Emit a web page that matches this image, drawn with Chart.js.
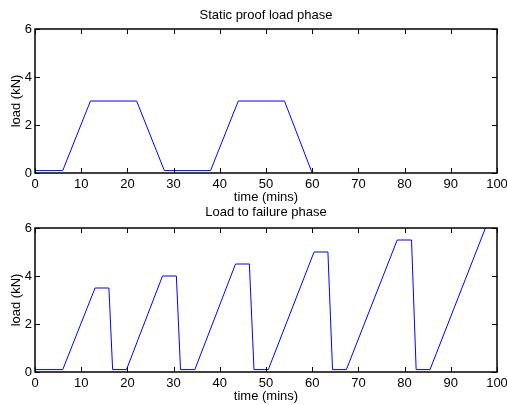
<!DOCTYPE html>
<html>
<head>
<meta charset="utf-8">
<script src="https://cdn.jsdelivr.net/npm/chart.js@4/dist/chart.umd.min.js"></script>
<style>
  html, body { margin: 0; padding: 0; background: #fff; }
  #wrap { position: relative; width: 507px; height: 405px; overflow: hidden; }
  canvas { position: absolute; left: 0; }
  #proofChart { top: 0; }
  #failChart { top: 200px; }
</style>
</head>
<body>
<div id="wrap">
  <canvas id="proofChart" width="507" height="206"></canvas>
  <canvas id="failChart" width="507" height="205"></canvas>
</div>
<script>
// Static proof load phase
const proofTime = [0, 6, 12, 22, 28, 38, 44, 54, 60];
const proofLoad = [0.1, 0.1, 3, 3, 0.1, 0.1, 3, 3, 0];

// Load to failure phase
const failTime = [0, 6, 13, 16, 16.8, 19.8, 27.6, 30.6, 31.5, 34.6, 43.4, 46.4, 47.4, 50.5,
                  60.4, 63.4, 64.4, 67.4, 78.4, 81.5, 82.5, 85.5, 97.5];
const failLoad = [0.1, 0.1, 3.5, 3.5, 0.1, 0.1, 4, 4, 0.1, 0.1, 4.5, 4.5, 0.1, 0.1,
                  5, 5, 0.1, 0.1, 5.5, 5.5, 0.1, 0.1, 6];

const xTicks = [0, 10, 20, 30, 40, 50, 60, 70, 80, 90, 100];
const yTicks = [0, 2, 4, 6];

const FONT = { family: '"Liberation Sans", Arial, sans-serif', size: 13 };

// Matlab-style box with inward ticks on all four sides
const boxTicks = {
    id: 'boxTicks',
    afterDraw(chart) {
        const { ctx, chartArea: a, scales } = chart;
        const len = 5;
        ctx.save();
        ctx.strokeStyle = '#000';
        ctx.lineWidth = 1;
        ctx.beginPath();
        scales.x.ticks.forEach(t => {
            const px = Math.round(scales.x.getPixelForValue(t.value)) + 0.5;
            ctx.moveTo(px, a.bottom);
            ctx.lineTo(px, a.bottom - len);
            ctx.moveTo(px, a.top);
            ctx.lineTo(px, a.top + len);
        });
        scales.y.ticks.forEach(t => {
            const py = Math.round(scales.y.getPixelForValue(t.value)) + 0.5;
            ctx.moveTo(a.left, py);
            ctx.lineTo(a.left + len, py);
            ctx.moveTo(a.right, py);
            ctx.lineTo(a.right - len, py);
        });
        ctx.stroke();
        ctx.lineWidth = 1.5;
        ctx.strokeRect(a.left, a.top, a.right - a.left, a.bottom - a.top);
        ctx.restore();
    }
};

function makeChart(id, title, xs, ys, pad) {
    const points = xs.map((x, i) => ({ x: x, y: ys[i] }));
    return new Chart(document.getElementById(id), {
        type: 'scatter',
        data: {
            datasets: [{
                data: points,
                showLine: true,
                borderColor: '#0000ff',
                borderWidth: 1,
                pointRadius: 0,
                fill: false
            }]
        },
        options: {
            responsive: false,
            animation: false,
            devicePixelRatio: 1,
            layout: { padding: { left: 0, right: 10, top: 0, bottom: 0 } },
            plugins: {
                legend: { display: false },
                tooltip: { enabled: false },
                title: {
                    display: true,
                    text: title,
                    fullSize: false,
                    color: '#000',
                    font: Object.assign({ weight: 'normal' }, FONT),
                    padding: { top: pad.titleTop, bottom: pad.titleBottom }
                }
            },
            scales: {
                x: {
                    type: 'linear',
                    min: 0,
                    max: 100,
                    grid: { display: false, drawTicks: false },
                    border: { display: false },
                    afterBuildTicks: s => { s.ticks = xTicks.map(v => ({ value: v })); },
                    ticks: { color: '#000', font: FONT, padding: pad.xTick, autoSkip: false, maxRotation: 0 },
                    title: {
                        display: true,
                        text: 'time (mins)',
                        color: '#000',
                        font: FONT,
                        padding: { top: 0, bottom: pad.xTitle }
                    },
                    afterFit: s => { s.height = pad.xHeight; s.paddingLeft = 0; s.paddingRight = 0; }
                },
                y: {
                    type: 'linear',
                    min: 0,
                    max: 6,
                    grid: { display: false, drawTicks: false },
                    border: { display: false },
                    afterBuildTicks: s => { s.ticks = yTicks.map(v => ({ value: v })); },
                    ticks: { color: '#000', font: FONT, padding: 3 },
                    title: {
                        display: true,
                        text: 'load (kN)',
                        color: '#000',
                        font: FONT,
                        padding: { top: 8.9, bottom: 0 }
                    },
                    afterFit: s => { s.width = 35; s.paddingTop = 0; s.paddingBottom = 0; }
                }
            }
        },
        plugins: [boxTicks]
    });
}

makeChart('proofChart', 'Static proof load phase', proofTime, proofLoad,
    { titleTop: 7.4, titleBottom: 6, xTick: 3.2, xTitle: 0.5, xHeight: 33 });
makeChart('failChart', 'Load to failure phase', failTime, failLoad,
    { titleTop: 4.7, titleBottom: 7.7, xTick: 4, xTitle: 1.2, xHeight: 33 });
</script>
</body>
</html>
